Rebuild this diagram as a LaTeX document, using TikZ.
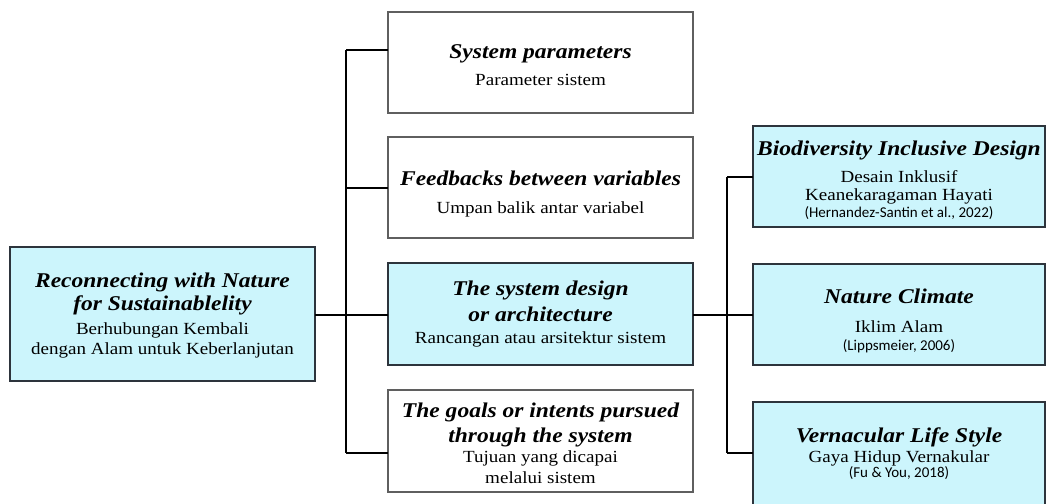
\documentclass[tikz,border=0pt]{standalone}
\usepackage{fontspec}
\setmainfont[FakeStretch=1.12]{Liberation Serif}
\newfontfamily\mycitefont{Carlito}
\newcommand\myhd{\bfseries\itshape\fontsize{21}{20}\selectfont}
\newcommand\myct{\mycitefont\fontsize{15}{20}\selectfont}
\newcommand\mytxtfont{\fontsize{17}{20}\selectfont}
\AtBeginDocument{\lineskiplimit=-50pt\relax}
\definecolor{cyanfill}{RGB}{204,245,252}
\definecolor{darkedge}{RGB}{45,52,60}
\definecolor{grayedge}{RGB}{95,95,95}
\begin{document}
\begin{tikzpicture}[x=1pt,y=-1pt,
  boxw/.style={draw=grayedge,line width=1.3pt,fill=white,inner sep=0pt,outer sep=0pt,minimum width=305pt,minimum height=101pt},
  boxc/.style={draw=darkedge,line width=2pt,fill=cyanfill,inner sep=0pt,outer sep=0pt,minimum width=305pt,minimum height=101pt},
  boxr/.style={boxc,minimum width=292pt},
  txt/.style={align=center,inner sep=0pt,font=\mytxtfont},
  conn/.style={draw=black,line width=1.2pt}]
\useasboundingbox (0,0) rectangle (1046,503);
% boxes
\node[boxc,minimum height=134pt] (L) at (162.5,314) {};
\node[boxw] (m1) at (540.5,62.5) {};
\node[boxw] (m2) at (540.5,187.5) {};
\node[boxc,minimum height=102pt] (m3) at (540.5,314) {};
\node[boxw,minimum height=102pt] (m4) at (540.5,441) {};
\node[boxr] (r1) at (899,176.5) {};
\node[boxr] (r2) at (899,314.5) {};
\node[boxr,minimum height=108pt] (r3) at (899,456) {};
% texts
\node[txt] (Lt) at (162.5,316) {{\myhd Reconnecting with Nature}\\[3pt]{\myhd for Sustainablelity}\\[4pt]Berhubungan Kembali\\dengan Alam untuk Keberlanjutan};
\node[txt] (m1t) at (540.5,65.5) {{\myhd System parameters}\\[7pt]Parameter sistem};
\node[txt] (m2t) at (540.5,194) {{\myhd Feedbacks between variables}\\[8pt]Umpan balik antar variabel};
\node[txt] (m3t) at (540.5,314) {{\myhd The system design}\\[6pt]{\myhd or architecture}\\[2pt]Rancangan atau arsitektur sistem};
\node[txt] (m4t) at (540.5,443) {{\myhd The goals or intents pursued}\\[5pt]{\myhd through the system}\\Tujuan yang dicapai\\[1pt]melalui sistem};
\node[txt] (r1t) at (899,180) {{\myhd Biodiversity Inclusive Design}\\[7pt]Desain Inklusif\\[-2pt]Keanekaragaman Hayati\\[-3pt]{\myct (Hernandez-Santin et al., 2022)}};
\node[txt] (r2t) at (899,321) {{\myhd Nature Climate}\\[9pt]Iklim Alam\\[-2pt]{\myct (Lippsmeier, 2006)}};
\node[txt] (r3t) at (899,454) {{\myhd Vernacular Life Style}\\Gaya Hidup Vernakular\\[-5pt]{\myct (Fu \& You, 2018)}};
% junction coordinates
\coordinate (jl) at (346,315);
\coordinate (jr) at (727,315);
\coordinate (y1) at (0,50);
\coordinate (y2) at (0,188);
\coordinate (y4) at (0,453);
\coordinate (yr1) at (0,177);
\coordinate (yr3) at (0,453);
% connectors left
\draw[conn] (L.east |- jl) -- (jl);
\draw[conn] (jl |- y1) -- (jl |- y4);
\draw[conn] (jl |- y1) -- (m1.west |- y1);
\draw[conn] (jl |- y2) -- (m2.west |- y2);
\draw[conn] (jl) -- (m3.west |- jl);
\draw[conn] (jl |- y4) -- (m4.west |- y4);
% connectors right
\draw[conn] (m3.east |- jr) -- (jr);
\draw[conn] (jr |- yr1) -- (jr |- yr3);
\draw[conn] (jr |- yr1) -- (r1.west |- yr1);
\draw[conn] (jr) -- (r2.west |- jr);
\draw[conn] (jr |- yr3) -- (r3.west |- yr3);
\end{tikzpicture}
\end{document}
